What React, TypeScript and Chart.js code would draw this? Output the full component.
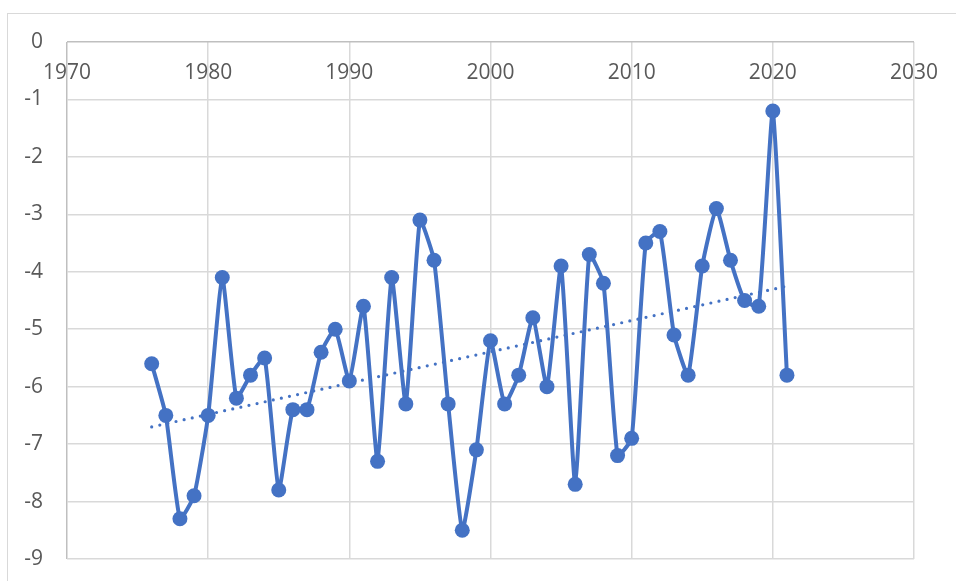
import React, { useEffect, useRef } from "react";
import { Chart, registerables } from "chart.js";

Chart.register(...registerables);

const years = [
  1976, 1977, 1978, 1979, 1980, 1981, 1982, 1983, 1984, 1985, 1986, 1987,
  1988, 1989, 1990, 1991, 1992, 1993, 1994, 1995, 1996, 1997, 1998, 1999,
  2000, 2001, 2002, 2003, 2004, 2005, 2006, 2007, 2008, 2009, 2010, 2011,
  2012, 2013, 2014, 2015, 2016, 2017, 2018, 2019, 2020, 2021,
];
const values = [
  -5.6, -6.5, -8.3, -7.9, -6.5, -4.1, -6.2, -5.8, -5.5, -7.8, -6.4, -6.4,
  -5.4, -5.0, -5.9, -4.6, -7.3, -4.1, -6.3, -3.1, -3.8, -6.3, -8.5, -7.1,
  -5.2, -6.3, -5.8, -4.8, -6.0, -3.9, -7.7, -3.7, -4.2, -7.2, -6.9, -3.5,
  -3.3, -5.1, -5.8, -3.9, -2.9, -3.8, -4.5, -4.6, -1.2, -5.8,
];
const trendYears = [1976, 2021];
const trendValues = [-6.7, -4.25];
const xTickLabels = [1970, 1980, 1990, 2000, 2010, 2020, 2030];

const FONT = '"Open Sans", "Liberation Sans", sans-serif';
const TEXT = "#595959";
const BLUE = "#4472c4";
const GRID = "#d9d9d9";
const AXIS = "#bfbfbf";

const frame = {
  id: "frame",
  beforeDraw(chart: any) {
    const ctx = chart.ctx;
    ctx.save();
    ctx.strokeStyle = GRID;
    ctx.lineWidth = 1;
    ctx.strokeRect(7.5, 13.5, 2000, 2000);
    ctx.restore();
  },
};

const topLabels = {
  id: "topLabels",
  afterDraw(chart: any) {
    const ctx = chart.ctx;
    const xs = chart.scales.x;
    const top = chart.chartArea.top;
    ctx.save();
    ctx.fillStyle = TEXT;
    ctx.font = `21px ${FONT}`;
    ctx.textAlign = "center";
    ctx.textBaseline = "middle";
    xTickLabels.forEach((v) => {
      ctx.fillText(String(v), xs.getPixelForValue(v), top + 31);
    });
    ctx.restore();
  },
};

export default function App() {
  const ref = useRef<HTMLCanvasElement | null>(null);
  useEffect(() => {
    if (!ref.current) return;
    const chart = new Chart(ref.current, {
      type: "scatter",
      data: {
        datasets: [
          {
            data: years.map((x, i) => ({ x, y: values[i] })),
            showLine: true,
            borderColor: BLUE,
            backgroundColor: BLUE,
            borderWidth: 4,
            pointRadius: 7.5,
            pointBorderWidth: 0,
            tension: 0.15,
            order: 0,
          },
          {
            data: trendYears.map((x, i) => ({ x, y: trendValues[i] })),
            showLine: true,
            borderColor: BLUE,
            backgroundColor: BLUE,
            borderWidth: 3.2,
            borderDash: [0, 8.3],
            borderCapStyle: "round",
            pointRadius: 0,
            order: 1,
          },
        ],
      },
      options: {
        responsive: false,
        animation: false,
        layout: { padding: { left: 0, top: 42, right: 42, bottom: 22 } },
        plugins: {
          legend: { display: false },
          tooltip: { enabled: false },
        },
        scales: {
          x: {
            type: "linear",
            min: 1970,
            max: 2030,
            ticks: { stepSize: 10, display: false },
            grid: {
              drawTicks: false,
              lineWidth: 1.5,
              color: (c: any) => (c.tick && c.tick.value === 1970 ? AXIS : GRID),
            },
            border: { display: false },
            afterFit: (s: any) => {
              s.height = 0;
              s.paddingLeft = 0;
              s.paddingRight = 0;
            },
          },
          y: {
            min: -9,
            max: 0,
            ticks: {
              stepSize: 1,
              color: TEXT,
              font: { family: FONT, size: 21 },
              padding: 24,
            },
            grid: {
              drawTicks: false,
              lineWidth: 1.5,
              color: (c: any) => (c.tick && c.tick.value === 0 ? AXIS : GRID),
            },
            border: { display: false },
            afterFit: (s: any) => {
              s.width = 67;
              s.paddingTop = 0;
              s.paddingBottom = 0;
            },
          },
        },
      },
      plugins: [frame, topLabels],
    } as any);
    return () => chart.destroy();
  }, []);
  return (
    <div style={{ position: "absolute", left: 0, top: 0, width: 956, height: 581, background: "#fff" }}>
      <canvas ref={ref} width={956} height={581} style={{ display: "block" }} />
    </div>
  );
}
